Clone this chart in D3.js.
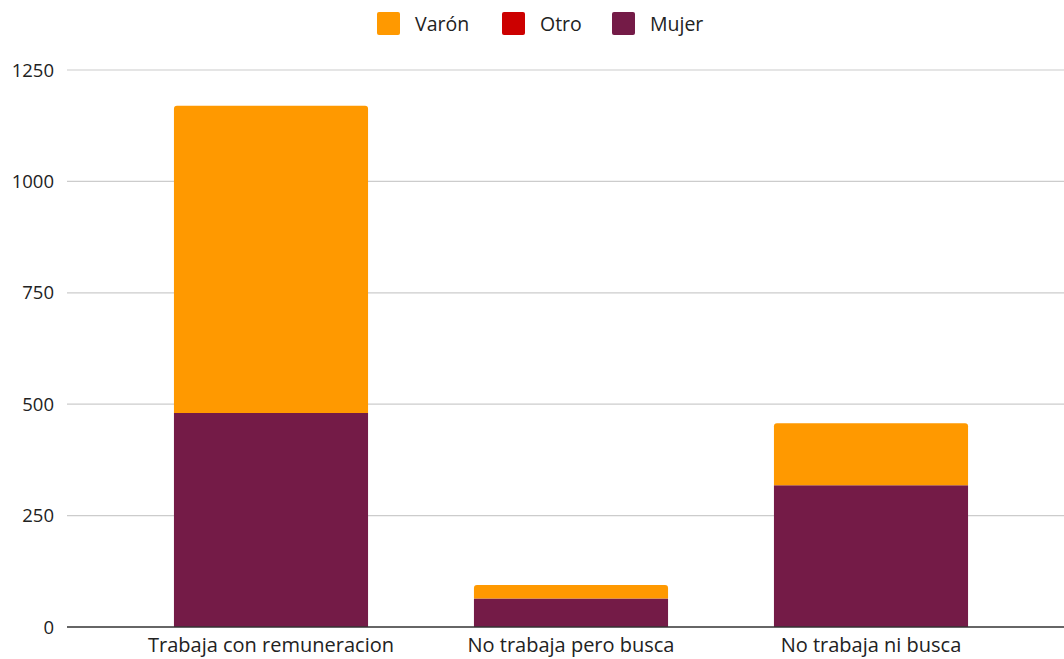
<!DOCTYPE html>
<html>
<head>
<meta charset="utf-8">
<script src="https://cdn.jsdelivr.net/npm/d3@7"></script>
<style>
  body { margin: 0; background: #fff; }
  text { font-family: "Open Sans", Lato, sans-serif; fill: #222; }
</style>
</head>
<body>
<svg id="chart"></svg>
<script>
// Categories along the x axis
const categories = ['Trabaja con remuneracion', 'No trabaja pero busca', 'No trabaja ni busca'];
// Series, stacked bottom to top: Mujer, Otro, Varón
const seriesNames = ['Mujer', 'Otro', 'Varón'];
const mujer = [480, 64, 318];
const otro = [0, 0, 0];
const varon = [690, 30, 139];
const yTicks = [0, 250, 500, 750, 1000, 1250];
// Legend order as shown on top
const legendOrder = ['Varón', 'Otro', 'Mujer'];

const width = 1064, height = 659;
const colors = { 'Varón': '#ff9900', 'Otro': '#cc0000', 'Mujer': '#741b47' };

const svg = d3.select('#chart')
    .attr('width', width)
    .attr('height', height);

const x = d3.scaleBand()
    .domain(categories)
    .range([121, 1021])
    .paddingInner(0.353)
    .paddingOuter(0.1765);

const y = d3.scaleLinear()
    .domain([0, 1250])
    .range([627, 70]);

// Gridlines
svg.append('g')
    .selectAll('line')
    .data(yTicks.filter(d => d > 0))
    .enter().append('line')
        .attr('x1', 67)
        .attr('x2', width)
        .attr('y1', d => y(d))
        .attr('y2', d => y(d))
        .attr('stroke', '#cccccc')
        .attr('stroke-width', 1.2);

// Y tick labels
svg.append('g')
    .selectAll('text')
    .data(yTicks)
    .enter().append('text')
        .attr('x', 54)
        .attr('y', d => y(d))
        .attr('dy', '0.36em')
        .attr('text-anchor', 'end')
        .style('font-size', '18.5px')
        .text(d => d);

// Stack the data
const table = categories.map((c, i) => ({ cat: c, 'Mujer': mujer[i], 'Otro': otro[i], 'Varón': varon[i] }));
const stacked = d3.stack().keys(seriesNames)(table);

// Top segment of each bar gets rounded corners
function topKey(d) {
    for (let k = seriesNames.length - 1; k >= 0; k--)
        if (d[seriesNames[k]] > 0) return seriesNames[k];
}

function segPath(x0, x1, y0, y1, r) {
    if (r <= 0) return `M${x0},${y1}V${y0}H${x1}V${y1}Z`;
    return `M${x0},${y1}V${y0 + r}Q${x0},${y0} ${x0 + r},${y0}H${x1 - r}Q${x1},${y0} ${x1},${y0 + r}V${y1}Z`;
}

svg.append('g')
    .selectAll('g')
    .data(stacked)
    .enter().append('g')
        .attr('fill', s => colors[s.key])
    .selectAll('path')
    .data(s => s.map(d => ({ key: s.key, d: d })))
    .enter().append('path')
        .filter(o => o.d[1] > o.d[0])
        .attr('d', o => {
            const x0 = x(o.d.data.cat), x1 = x0 + x.bandwidth();
            const r = topKey(o.d.data) === o.key ? 3 : 0;
            return segPath(x0, x1, y(o.d[1]), y(o.d[0]), r);
        });

// Baseline
svg.append('line')
    .attr('x1', 67)
    .attr('x2', width)
    .attr('y1', y(0))
    .attr('y2', y(0))
    .attr('stroke', '#333333')
    .attr('stroke-width', 1.5);

// Category labels
svg.append('g')
    .selectAll('text')
    .data(categories)
    .enter().append('text')
        .attr('x', d => x(d) + x.bandwidth() / 2)
        .attr('y', 652)
        .attr('text-anchor', 'middle')
        .style('font-size', '20px')
        .text(d => d);

// Legend
const legendX = { 'Varón': 377, 'Otro': 502, 'Mujer': 612 };
const legend = svg.append('g')
    .selectAll('g')
    .data(legendOrder)
    .enter().append('g')
        .attr('transform', d => `translate(${legendX[d]},12)`);

legend.append('rect')
    .attr('width', 23)
    .attr('height', 23)
    .attr('rx', 2)
    .attr('fill', d => colors[d]);

legend.append('text')
    .attr('x', 38)
    .attr('y', 11.5)
    .attr('dy', '0.36em')
    .style('font-size', '19.5px')
    .text(d => d);
</script>
</body>
</html>
